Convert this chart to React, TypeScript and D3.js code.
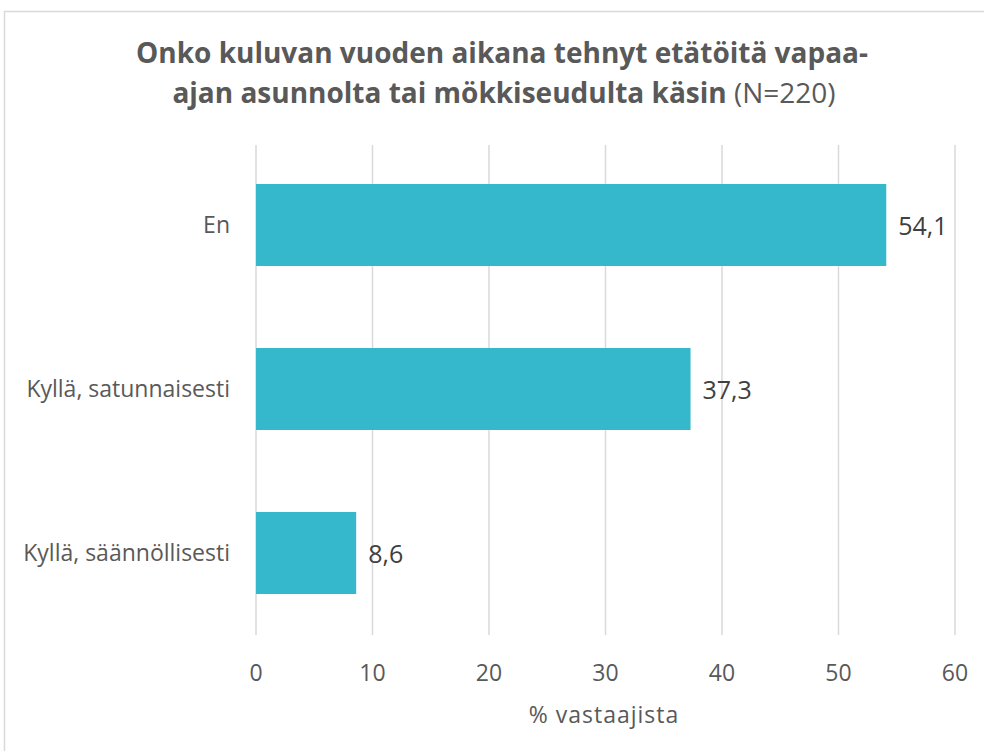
import React, { useEffect, useRef } from "react";
import * as d3 from "d3";

const categories = ["En", "Kyllä, satunnaisesti", "Kyllä, säännöllisesti"];
const values = [54.1, 37.3, 8.6];
const ticks = [0, 10, 20, 30, 40, 50, 60];
const titleLines = ["Onko kuluvan vuoden aikana tehnyt etätöitä vapaa-", "ajan asunnolta tai mökkiseudulta käsin"];
const titleSuffix = " (N=220)";
const axisTitle = "% vastaajista";

export default function App() {
  const ref = useRef<SVGSVGElement>(null);
  useEffect(() => {
    const svg = d3.select(ref.current);
    svg.selectAll("*").remove();
    const W = 984, H = 751;
    const font = "'Open Sans', sans-serif";
    const txt = "#595959";
    svg.append("rect").attr("x", 4.5).attr("y", 11.5).attr("width", W + 10).attr("height", H + 10)
      .attr("fill", "#fff").attr("stroke", "#d9d9d9").attr("stroke-width", 1.5);

    const x = d3.scaleLinear().domain([0, 60]).range([256, 955]);
    const y = d3.scaleBand().domain(categories).range([143, 635]).paddingInner(0.5).paddingOuter(0.25);

    const g = svg.append("g");
    g.selectAll("line.grid").data(ticks).join("line")
      .attr("x1", d => x(d)).attr("x2", d => x(d)).attr("y1", 145).attr("y2", 635)
      .attr("stroke", "#d9d9d9").attr("stroke-width", 1.5);

    g.selectAll("rect.bar").data(values).join("rect")
      .attr("x", x(0)).attr("y", (_, i) => y(categories[i])!)
      .attr("width", d => x(d) - x(0)).attr("height", y.bandwidth())
      .attr("fill", "#36B8CC");

    g.selectAll("text.val").data(values).join("text")
      .attr("x", d => x(d) + 12).attr("y", (_, i) => y(categories[i])! + y.bandwidth() / 2)
      .attr("dy", "0.38em").attr("font-family", font).attr("font-size", 25).attr("fill", "#404040")
      .text(d => d.toFixed(1).replace(".", ","));

    g.selectAll("text.cat").data(categories).join("text")
      .attr("x", 230).attr("y", d => y(d)! + y.bandwidth() / 2)
      .attr("dy", "0.36em").attr("text-anchor", "end").attr("font-family", font).attr("font-size", 23).attr("fill", txt)
      .text(d => d);

    g.selectAll("text.tick").data(ticks).join("text")
      .attr("x", d => x(d)).attr("y", 681).attr("text-anchor", "middle")
      .attr("font-family", font).attr("font-size", 23).attr("fill", txt).text(d => String(d));

    g.append("text").attr("x", 604).attr("y", 723).attr("text-anchor", "middle")
      .attr("font-family", font).attr("font-size", 23).attr("letter-spacing", 1).attr("fill", txt).text(axisTitle);

    const t1 = g.append("text").attr("x", 502).attr("y", 63).attr("text-anchor", "middle")
      .attr("font-family", font).attr("font-size", 28).attr("font-weight", "bold").attr("fill", txt);
    t1.text(titleLines[0]);
    const t2 = g.append("text").attr("x", 504).attr("y", 103).attr("text-anchor", "middle")
      .attr("font-family", font).attr("font-size", 28).attr("fill", txt);
    t2.append("tspan").attr("font-weight", "bold").text(titleLines[1]);
    t2.append("tspan").attr("font-weight", "normal").text(titleSuffix);
  }, []);
  return (
    <svg ref={ref} width={984} height={751} style={{ position: "absolute", left: 0, top: 0 }} />
  );
}
